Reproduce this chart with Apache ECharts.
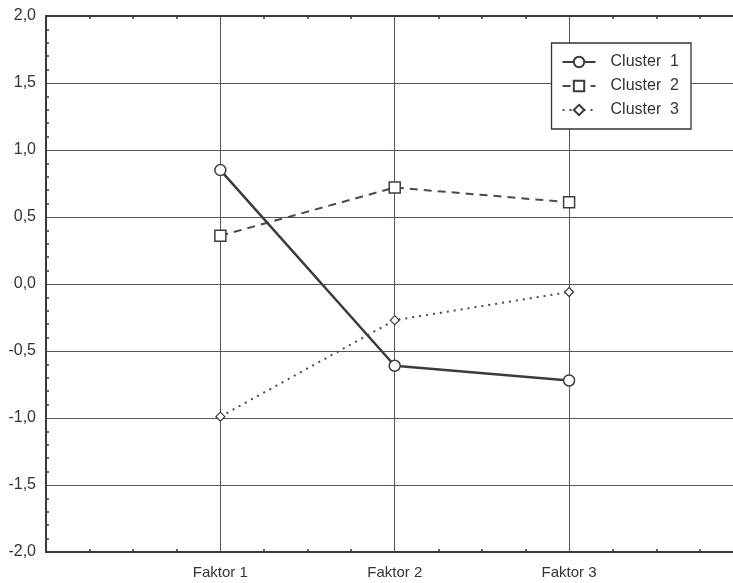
<!DOCTYPE html>
<html><head><meta charset="utf-8">
<script src="https://cdn.jsdelivr.net/npm/echarts@6/dist/echarts.min.js"></script>
<style>html,body{margin:0;padding:0;background:#fff}#c{width:733px;height:583px}</style>
</head><body><div id="c"></div>
<script>
const categories = ['Faktor 1', 'Faktor 2', 'Faktor 3'];
const seriesNames = ['Cluster  1', 'Cluster  2', 'Cluster  3'];
const cluster1 = [0.85, -0.61, -0.72];
const cluster2 = [0.36, 0.72, 0.61];
const cluster3 = [-0.99, -0.27, -0.06];
const yTicks = [-2.0, -1.5, -1.0, -0.5, 0.0, 0.5, 1.0, 1.5, 2.0];

const toPairs = arr => arr.map((v, i) => [i + 1, v]);
const ink = '#3a3a3a';
const font = 'Liberation Sans, Arial, sans-serif';

const chart = echarts.init(document.getElementById('c'));
chart.setOption({
  backgroundColor: '#fff',
  animation: false,
  grid: { left: 46, right: 0, top: 16, bottom: 31 },
  legend: {
    orient: 'vertical',
    right: 42, top: 43,
    itemWidth: 33, itemHeight: 13, itemGap: 8,
    padding: [11, 12, 11, 10],
    borderColor: '#333', borderWidth: 1.3,
    backgroundColor: '#fff',
    textStyle: { fontFamily: font, fontSize: 16, color: '#333', padding: [0, 0, 0, 10] },
    data: seriesNames
  },
  xAxis: [{
    type: 'value', min: 0, max: 3.94, interval: 1, position: 'bottom',
    axisLine: { onZero: false, lineStyle: { color: ink, width: 2 } },
    axisTick: { show: false },
    minorTick: { show: true, splitNumber: 4, length: -3, lineStyle: { color: ink, width: 1.5 } },
    splitLine: { show: true, lineStyle: { color: '#555', width: 1 } },
    axisLabel: {
      fontFamily: font, fontSize: 15, color: '#333', margin: 13,
      showMaxLabel: false,
      formatter: v => (Number.isInteger(v) && v >= 1 && v <= categories.length) ? categories[v - 1] : ''
    }
  }, {
    type: 'value', min: 0, max: 3.94, interval: 1, position: 'top',
    axisLine: { show: true, onZero: false, lineStyle: { color: ink, width: 2 } },
    axisTick: { show: false },
    minorTick: { show: true, splitNumber: 4, length: -3, lineStyle: { color: ink, width: 1.5 } },
    splitLine: { show: false },
    axisLabel: { show: false }
  }],
  yAxis: {
    type: 'value', min: yTicks[0], max: yTicks[yTicks.length - 1], interval: 0.5,
    axisLine: { show: true, onZero: false, lineStyle: { color: ink, width: 2 } },
    axisTick: { show: false },
    minorTick: { show: true, splitNumber: 5, length: -3, lineStyle: { color: ink, width: 1.5 } },
    splitLine: { show: true, lineStyle: { color: '#555', width: 1 } },
    axisLabel: {
      fontFamily: font, fontSize: 16, color: '#333', margin: 10,
      formatter: v => v.toFixed(1).replace('.', ',')
    }
  },
  series: [{
    name: seriesNames[0], type: 'line', data: toPairs(cluster1),
    symbol: 'circle', symbolSize: 11,
    lineStyle: { color: '#3c3c3c', width: 2.5, type: 'solid' },
    itemStyle: { color: '#fff', borderColor: '#3c3c3c', borderWidth: 1.5 },
    z: 4
  }, {
    name: seriesNames[1], type: 'line', data: toPairs(cluster2),
    symbol: 'rect', symbolSize: 11,
    lineStyle: { color: '#4a4a4a', width: 2, type: [8, 6] },
    itemStyle: { color: '#fff', borderColor: '#3c3c3c', borderWidth: 1.5 },
    z: 3
  }, {
    name: seriesNames[2], type: 'line', data: toPairs(cluster3),
    symbol: 'diamond', symbolSize: 9,
    lineStyle: { color: '#4a4a4a', width: 2, type: [2, 5] },
    itemStyle: { color: '#fff', borderColor: '#3c3c3c', borderWidth: 1.2 },
    z: 3
  }]
});
</script></body></html>
